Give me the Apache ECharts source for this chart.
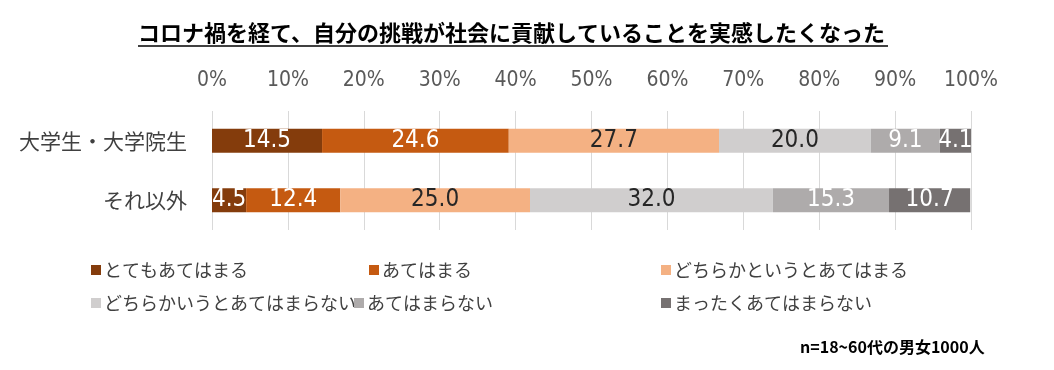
<!DOCTYPE html>
<html><head><meta charset="utf-8">
<script src="https://cdn.jsdelivr.net/npm/echarts@6/dist/echarts.min.js"></script>
<style>html,body{margin:0;padding:0;background:#fff}#c{width:1054px;height:370px}</style>
</head><body><div id="c"></div>
<script>
const categories = ['大学生・大学院生', 'それ以外'];
const seriesNames = ['とてもあてはまる', 'あてはまる', 'どちらかというとあてはまる', 'どちらかいうとあてはまらない', 'あてはまらない', 'まったくあてはまらない'];
const s1 = [14.5, 4.5];
const s2 = [24.6, 12.4];
const s3 = [27.7, 25.0];
const s4 = [20.0, 32.0];
const s5 = [9.1, 15.3];
const s6 = [4.1, 10.7];
const tickLabels = ['0%','10%','20%','30%','40%','50%','60%','70%','80%','90%','100%'];

const values = [s1, s2, s3, s4, s5, s6];
const colors = ['#843C0C', '#C55A11', '#F4B183', '#D0CECE', '#AEABAB', '#767171'];
const labelColors = ['#fff', '#fff', '#262626', '#262626', '#fff', '#fff'];
const NUMF = '"DejaVu Sans Condensed", "Liberation Sans Narrow", sans-serif';
const JPF = '"Noto Sans CJK JP", sans-serif';

const chart = echarts.init(document.getElementById('c'), null, {renderer: 'canvas'});
const legendPos = [
  {left: 86, top: 256}, {left: 364, top: 256}, {left: 656, top: 256},
  {left: 86, top: 289}, {left: 349, top: 289}, {left: 656, top: 289}
];
chart.setOption({
  animation: false,
  title: {
    text: 'コロナ禍を経て、自分の挑戦が社会に貢献していることを実感したくなった',
    left: 133, top: 17,
    textStyle: {fontFamily: JPF, fontSize: 22, fontWeight: 'bold', color: '#000'}
  },
  graphic: [{
    type: 'line', shape: {x1: 138, y1: 46, x2: 888, y2: 46},
    style: {stroke: '#000', lineWidth: 1.5}
  }, {
    type: 'text', left: 800, top: 339,
    style: {text: 'n=18~60代の男女1000人', font: 'bold 16px "Noto Sans CJK JP", sans-serif', fill: '#000'}
  }],
  legend: seriesNames.map((n, i) => ({
    data: [n], left: legendPos[i].left, top: legendPos[i].top,
    icon: 'rect', itemWidth: 10, itemHeight: 10, itemGap: 4,
    textStyle: {fontFamily: JPF, fontSize: 18, color: '#404040', padding: [0,0,0,-2]}
  })),
  grid: {left: 212, right: 83, top: 111, height: 119},
  xAxis: {
    type: 'value', position: 'top', min: 0, max: 100, interval: 10,
    axisLine: {show: false}, axisTick: {show: false},
    splitLine: {lineStyle: {color: '#D9D9D9', width: 1}},
    axisLabel: {
      formatter: (v) => tickLabels[Math.round(v / 10)],
      fontFamily: NUMF, fontSize: 21, color: '#595959', margin: 20
    }
  },
  yAxis: {
    type: 'category', data: categories, inverse: true,
    axisLine: {show: false}, axisTick: {show: false},
    axisLabel: {fontFamily: JPF, fontSize: 21, color: '#404040', margin: 25}
  },
  series: values.map((v, i) => ({
    name: seriesNames[i], type: 'bar', stack: 'a', data: v,
    barWidth: 24,
    itemStyle: {color: colors[i]},
    label: {
      show: true, position: 'inside',
      formatter: (p) => p.value.toFixed(1),
      fontFamily: NUMF, fontSize: 24, color: labelColors[i]
    }
  }))
});
</script></body></html>
